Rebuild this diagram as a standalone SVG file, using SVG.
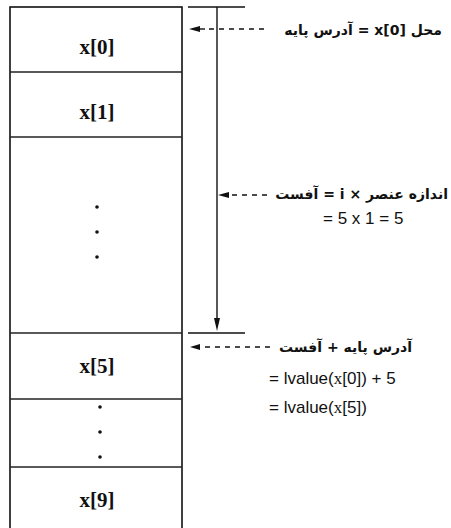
<svg xmlns="http://www.w3.org/2000/svg" width="451" height="528" viewBox="0 0 451 528">
<style>
.box{fill:#fff;stroke:#111;stroke-width:1.6}
.sep{stroke:#222;stroke-width:1.3}
.ln{stroke:#111;stroke-width:1.4;fill:none}
.dash{stroke:#111;stroke-width:1.4;stroke-dasharray:5 5;fill:none}
.cell{font-family:"Liberation Serif",serif;font-weight:bold;font-size:21px;fill:#111;text-anchor:middle}
.fa{font-family:"DejaVu Sans","Noto Sans",sans-serif;font-size:14px;fill:#111;font-weight:bold}
.eq{font-family:"Liberation Sans",Arial,sans-serif;font-size:17px;fill:#111}
.ser{font-family:"Liberation Serif",serif}
.dot{fill:#111}
.head{fill:#111}
</style>
<rect width="451" height="528" fill="#fff"/>
<g id="memory">
<rect class="box" x="10" y="7" width="172" height="530"/>
<line class="sep" x1="10" y1="72" x2="182" y2="72"/>
<line class="sep" x1="10" y1="137" x2="182" y2="137"/>
<line class="sep" x1="10" y1="333" x2="182" y2="333"/>
<line class="sep" x1="10" y1="399" x2="182" y2="399"/>
<line class="sep" x1="10" y1="467" x2="182" y2="467"/>
</g>
<g id="cell0"><text class="cell" x="97" y="54">x[0]</text></g>
<g id="cell1"><text class="cell" x="97" y="119">x[1]</text></g>
<g id="cellgap1">
<circle class="dot" cx="97" cy="207" r="1.8"/>
<circle class="dot" cx="97" cy="232" r="1.8"/>
<circle class="dot" cx="97" cy="257" r="1.8"/>
</g>
<g id="cell5"><text class="cell" x="97" y="373">x[5]</text></g>
<g id="cellgap2">
<circle class="dot" cx="100" cy="407" r="1.8"/>
<circle class="dot" cx="100" cy="432" r="1.8"/>
<circle class="dot" cx="100" cy="457" r="1.8"/>
</g>
<g id="cell9"><text class="cell" x="97" y="507">x[9]</text></g>
<g id="connectors">
<line class="ln" x1="188" y1="7" x2="245" y2="7"/>
<line class="ln" x1="188" y1="333" x2="245" y2="333"/>
<line class="ln" x1="217" y1="7" x2="217" y2="320"/>
<path class="head" d="M214,318 L220,318 L217,331 Z"/>
<line class="dash" x1="209" y1="29" x2="266" y2="29"/>
<path class="head" d="M189,29 L200,26 L200,32 Z"/>
<line class="ln" x1="199" y1="29" x2="205" y2="29"/>
<line class="dash" x1="232" y1="195" x2="268" y2="195"/>
<path class="head" d="M218,195 L229,192 L229,198 Z"/>
<line class="dash" x1="205" y1="347" x2="270" y2="347"/>
<path class="head" d="M190,347 L200,344 L200,350 Z"/>
</g>
<g id="label-base">
<text class="fa" x="442" y="35" direction="rtl" text-anchor="start">محل x[0] = آدرس پایه</text>
</g>
<g id="label-offset">
<text class="fa" x="448" y="199" direction="rtl" text-anchor="start">اندازه عنصر × i = آفست</text>
<text class="eq" x="323" y="224">= 5 x 1 = 5</text>
</g>
<g id="label-addr">
<text class="fa" x="412" y="352" direction="rtl" text-anchor="start">آدرس پایه + آفست</text>
<text class="eq" x="269" y="384">= lvalue(<tspan class="ser">x</tspan>[0]) + 5</text>
<text class="eq" x="269" y="413">= lvalue(<tspan class="ser">x</tspan>[5])</text>
</g>
</svg>
